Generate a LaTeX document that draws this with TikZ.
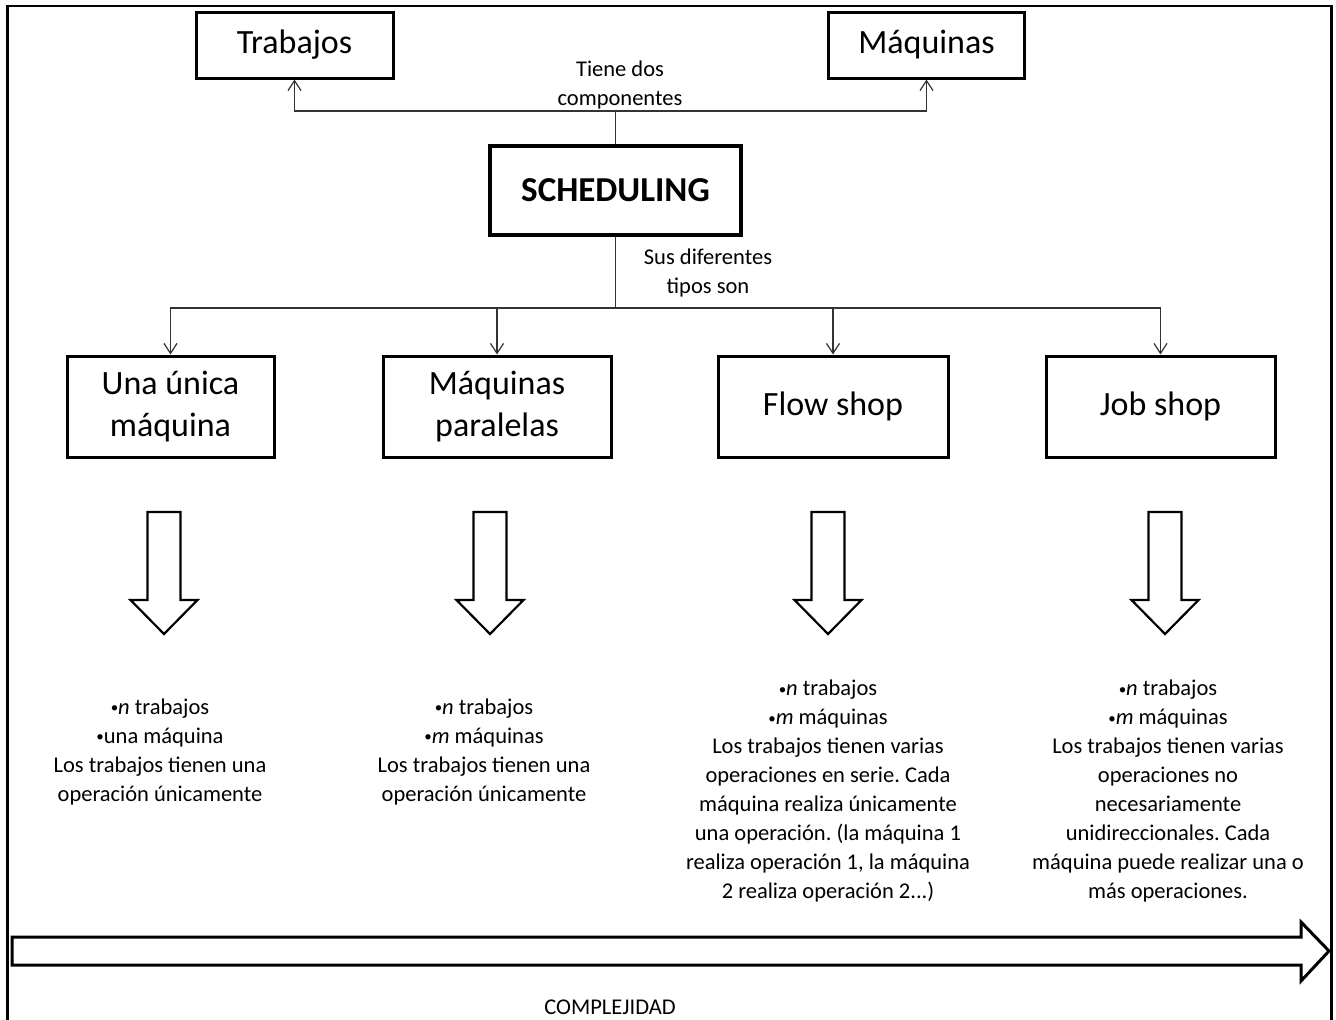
\documentclass[tikz,border=0pt]{standalone}
\usepackage{fontspec}
\setmainfont{Carlito}
\usetikzlibrary{arrows.meta}

% small raised bullet used in the descriptions
\newcommand{\itembul}{{\fontsize{15}{15}\selectfont\raisebox{1.5pt}{•}}}

\tikzset{
  bigbox/.style={draw=black, line width=3pt, fill=white, inner sep=0pt,
    align=center, font=\fontsize{34}{42}\selectfont},
  headbox/.style={bigbox, line width=3.2pt, font=\fontsize{35}{40}\selectfont\bfseries},
  link/.style={draw=black!80, line width=1.2pt},
  linkarrow/.style={link, -{Straight Barb[length=10pt,width=13pt,line width=1.2pt]}},
  smalltext/.style={align=center, inner sep=0pt, font=\fontsize{22.5}{29}\selectfont\frenchspacing},
  blockarrow/.style={draw=black, line width=2.2pt, fill=white, line join=miter},
}

\begin{document}
\begin{tikzpicture}[x=1pt, y=-1pt]
  \useasboundingbox (0,0) rectangle (1336,1020);
  \clip (0,0) rectangle (1336,1020);
  \fill[white] (0,0) rectangle (1336,1020);

  % outer frame (its lower edge runs off the page)
  \draw[line width=2.8pt] (7.5,6) rectangle (1331.5,1040);

  % top level
  \node[headbox, minimum width=251pt, minimum height=89pt] (sched) at (615.5,190.5) {SCHEDULING};
  \node[bigbox, minimum width=197pt, minimum height=66pt] (trab) at (294.5,45) {Trabajos};
  \node[bigbox, minimum width=196pt, minimum height=66pt] (maq) at (926.5,45) {Máquinas};

  % the four kinds
  \node[bigbox, minimum width=207pt, minimum height=101pt] (una) at (170.5,406.5) {Una única\\máquina};
  \node[bigbox, minimum width=228pt, minimum height=101pt] (par) at (497,406.5) {Máquinas\\paralelas};
  \node[bigbox, minimum width=230pt, minimum height=101pt] (flow) at (833,406.5) {Flow shop};
  \node[bigbox, minimum width=229pt, minimum height=101pt] (job) at (1160.5,406.5) {Job shop};

  % connectors: components
  \coordinate (tj) at (615.5,111);
  \draw[link] (sched.north) -- (tj);
  \draw[linkarrow] (tj) -| (trab.south);
  \draw[linkarrow] (tj) -| (maq.south);
  \node[smalltext] (comp) at (620,85) {Tiene dos\\componentes};

  % connectors: kinds
  \coordinate (bj) at (615.5,308);
  \draw[link] (sched.south) -- (bj);
  \draw[linkarrow] (bj) -| (una.north);
  \draw[linkarrow] (bj) -| (par.north);
  \draw[linkarrow] (bj) -| (flow.north);
  \draw[linkarrow] (bj) -| (job.north);
  \node[smalltext] (tipos) at (708,273) {Sus diferentes\\tipos son};

  % hollow down arrows
  \foreach \cx in {164,490,828,1165}{
    \draw[blockarrow] (\cx-16.5,512) -- (\cx+16.5,512) -- (\cx+16.5,600) -- (\cx+33.5,600)
      -- (\cx,634) -- (\cx-33.5,600) -- (\cx-16.5,600) -- cycle;
  }

  % descriptions
  \node[smalltext] (d1) at (160,751.5) {\itembul\textit{n} trabajos\\\itembul una máquina\\Los trabajos tienen una\\operación únicamente};
  \node[smalltext] (d2) at (484,751.5) {\itembul\textit{n} trabajos\\\itembul\textit{m} máquinas\\Los trabajos tienen una\\operación únicamente};
  \node[smalltext] (d3) at (828,791) {\itembul\textit{n} trabajos\\\itembul\textit{m} máquinas\\Los trabajos tienen varias\\operaciones en serie. Cada\\máquina realiza únicamente\\una operación. (la máquina 1\\realiza operación 1, la máquina\\2 realiza operación 2...)};
  \node[smalltext] (d4) at (1168,791) {\itembul\textit{n} trabajos\\\itembul\textit{m} máquinas\\Los trabajos tienen varias\\operaciones no\\necesariamente\\unidireccionales. Cada\\máquina puede realizar una o\\más operaciones.};

  % complexity arrow
  \draw[blockarrow, line width=3pt] (12,937) -- (1301,937) -- (1301,922) -- (1329,951)
    -- (1301,981) -- (1301,965) -- (12,965) -- cycle;
  \node[smalltext] (cx) at (610,1007) {COMPLEJIDAD};
\end{tikzpicture}
\end{document}
